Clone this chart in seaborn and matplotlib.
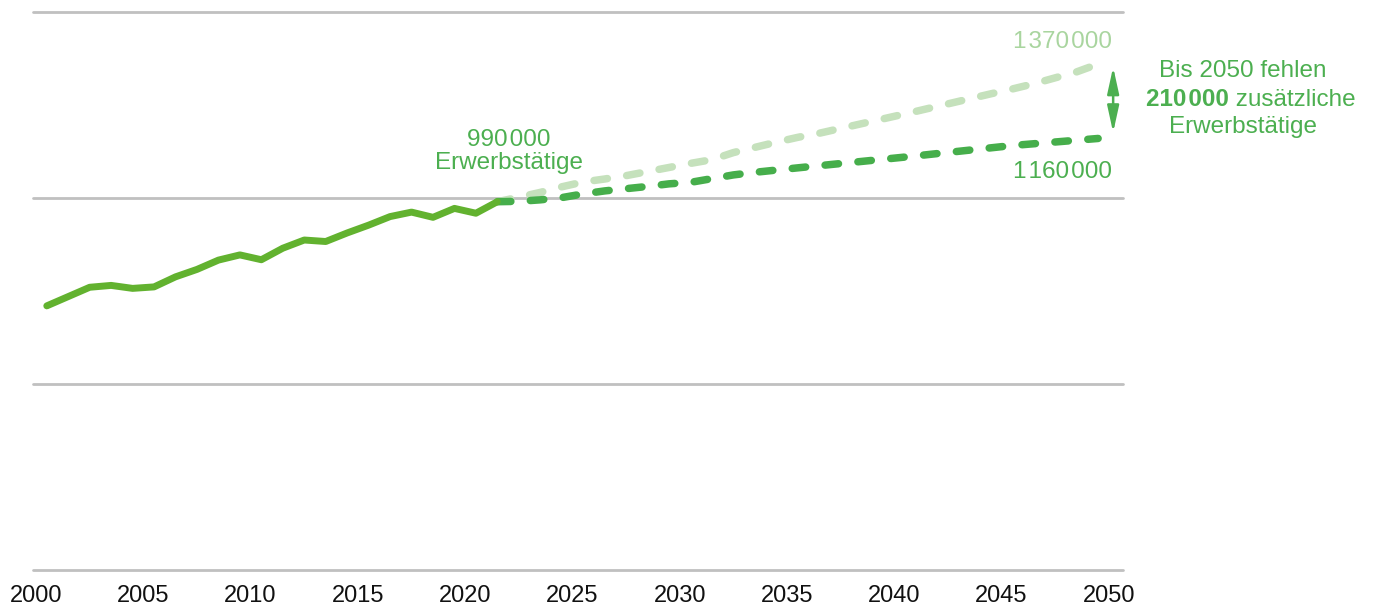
import numpy as np
import pandas as pd
import matplotlib
matplotlib.use("Agg")
import matplotlib.pyplot as plt
import seaborn as sns

# ---------------- data ----------------
hist_years = [2000, 2001, 2002, 2003, 2004, 2005, 2006, 2007, 2008, 2009, 2010,
              2011, 2012, 2013, 2014, 2015, 2016, 2017, 2018, 2019, 2020, 2021]
hist_values = [710000, 735000, 760000, 765000, 757000, 761000, 788000, 808000,
               833000, 847000, 834000, 865000, 887000, 883000, 906000, 927000,
               950000, 962000, 948000, 972000, 959000, 990000]

low_years = [2021, 2022, 2023, 2024, 2025, 2026, 2027, 2028, 2029, 2030, 2031,
             2032, 2033, 2035, 2040, 2045, 2049]
low_values = [990000, 991000, 995000, 1001000, 1011000, 1019000, 1025000, 1031000,
              1038000, 1042000, 1052000, 1062000, 1069000, 1081000, 1110000,
              1141000, 1160000]

high_years = [2021, 2022, 2023, 2024, 2025, 2026, 2027, 2028, 2029, 2030, 2031,
              2032, 2033, 2034, 2035, 2036, 2037, 2038, 2039, 2040, 2042, 2044,
              2045, 2046, 2047, 2048, 2049]
high_values = [990000, 1002000, 1015000, 1030000, 1043000, 1051000, 1060000,
               1071000, 1082000, 1093000, 1103000, 1122000, 1136000, 1150000,
               1163000, 1174000, 1187000, 1200000, 1213000, 1226000, 1253000,
               1280000, 1293000, 1307000, 1323000, 1339000, 1360000]

x_ticks = [2000, 2005, 2010, 2015, 2020, 2025, 2030, 2035, 2040, 2045, 2050]
y_grid = [0, 500000, 1000000, 1500000]

SP = "\u200a"
label_start = "990" + SP + "000"
label_start2 = "Erwerbstätige"
label_high = "1" + SP + "370" + SP + "000"
label_low = "1" + SP + "160" + SP + "000"
note_line1 = "Bis 2050 fehlen"
note_bold = "210" + SP + "000"
note_rest = " zusätzliche"
note_line3 = "Erwerbstätige"

# ---------------- style ----------------
C_HIST = "#62b22f"
C_LOW = "#46ae4b"
C_HIGH = "#c5e1bc"
C_TEXT = "#4caf50"
C_TEXT_LIGHT = "#a9d59f"
C_GRID = "#c0c0c0"

sns.set_style("white")
plt.rcParams["font.family"] = ["Liberation Sans", "DejaVu Sans"]

fig = plt.figure(figsize=(13.75, 6.09), dpi=100)
ax = fig.add_axes([0.0242, 0.06404, 0.7927, 0.9163])

# mid-year plotting convention
off = 0.5
df_hist = pd.DataFrame({"x": np.array(hist_years) + off, "y": hist_values})
df_low = pd.DataFrame({"x": np.array(low_years) + off, "y": low_values})
df_high = pd.DataFrame({"x": np.array(high_years) + off, "y": high_values})

for yv in y_grid:
    ax.axhline(yv, color=C_GRID, lw=2.0, zorder=0, clip_on=False)

sns.lineplot(data=df_high, x="x", y="y", ax=ax, color=C_HIGH, linewidth=5.4,
             linestyle=(0, (1.8, 2.6)), dash_capstyle="round", zorder=2)
sns.lineplot(data=df_low, x="x", y="y", ax=ax, color=C_LOW, linewidth=5.4,
             linestyle=(0, (1.8, 2.6)), dash_capstyle="round", zorder=3)
sns.lineplot(data=df_hist, x="x", y="y", ax=ax, color=C_HIST, linewidth=5.0,
             solid_capstyle="round", solid_joinstyle="round", zorder=4)

ax.set_xlim(1999.87, 2050.67)
ax.set_ylim(0, 1500000)
ax.set_xticks(x_ticks)
ax.set_xticklabels([str(t) for t in x_ticks])
ax.set_yticks([])
ax.set_xlabel("")
ax.set_ylabel("")
ax.tick_params(axis="x", length=0, pad=11, labelsize=17, labelcolor="#111111")
for s in ax.spines.values():
    s.set_visible(False)

# arrow between scenarios
ax.annotate("", xy=(2050.2, 1352000), xytext=(2050.2, 1176000),
            arrowprops=dict(arrowstyle="<|-|>,head_length=1.6,head_width=0.35",
                            mutation_scale=10, color=C_TEXT, lw=1.8,
                            shrinkA=0, shrinkB=0), annotation_clip=False)

# labels
FS = 17.5
ax.text(2022.04, 1139800, label_start, color=C_TEXT, fontsize=FS,
        ha="center", va="baseline")
ax.text(2022.04, 1077100, label_start2, color=C_TEXT, fontsize=FS,
        ha="center", va="baseline")
ax.text(2050.14, 1402400, label_high, color=C_TEXT_LIGHT, fontsize=FS,
        ha="right", va="baseline")
ax.text(2050.14, 1053000, label_low, color=C_TEXT, fontsize=FS,
        ha="right", va="baseline")

fig.text(0.904, 0.8741, note_line1, color=C_TEXT, fontsize=FS,
         ha="center", va="baseline")
fig.text(0.8938, 0.8259, note_bold, color=C_TEXT, fontsize=FS,
         fontweight="bold", ha="right", va="baseline")
fig.text(0.8938, 0.8259, note_rest, color=C_TEXT, fontsize=FS,
         ha="left", va="baseline")
fig.text(0.904, 0.7811, note_line3, color=C_TEXT, fontsize=FS,
         ha="center", va="baseline")

fig.savefig("out.png", dpi=100)
